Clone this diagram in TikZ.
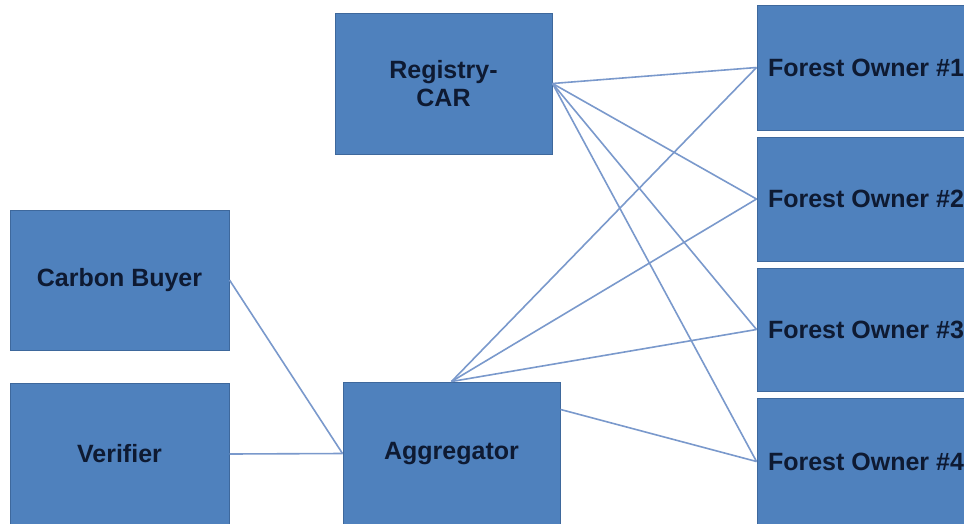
\documentclass[tikz,border=0pt]{standalone}
\usepackage{fontspec}
\setmainfont{Liberation Sans}
\definecolor{boxfill}{RGB}{79,129,189}
\definecolor{boxedge}{RGB}{62,104,156}
\definecolor{boxtext}{RGB}{14,26,50}
\definecolor{linkcol}{RGB}{122,153,204}
\begin{document}
\begin{tikzpicture}[x=1pt,y=-1pt,
  entity/.style={draw=boxedge,line width=1pt,fill=boxfill,rectangle,inner sep=0pt,
    text=boxtext,font=\fontsize{25}{28}\selectfont\bfseries,align=center},
  link/.style={draw=linkcol,line width=1.6pt}]
\useasboundingbox (0,0) rectangle (964,523);
\clip (0,0) rectangle (964,523);
\fill[white] (0,0) rectangle (964,523);
% nodes
\node[entity,minimum width=217pt,minimum height=141pt] (reg) at (443.5,83.5) {Registry-\\CAR};
\node[entity,minimum width=218pt,minimum height=125pt] (fo1) at (866,67.5) {Forest Owner \#1};
\node[entity,minimum width=218pt,minimum height=124pt] (fo2) at (866,199) {Forest Owner \#2};
\node[entity,minimum width=218pt,minimum height=123pt] (fo3) at (866,329.5) {Forest Owner \#3};
\node[entity,minimum width=218pt,minimum height=127pt] (fo4) at (866,461.5) {Forest Owner \#4};
\node[entity,minimum width=219pt,minimum height=140pt] (buyer) at (119.5,280) {Carbon Buyer};
\node[entity,minimum width=219pt,minimum height=142pt] (ver) at (119.5,454) {Verifier};
\node[entity,minimum width=217pt,minimum height=143pt] (agg) at (451.5,453.5) {Aggregator};
% connectors
\draw[link] (reg.east) -- (fo1.west);
\draw[link] (reg.east) -- (fo2.west);
\draw[link] (reg.east) -- (fo3.west);
\draw[link] (reg.east) -- (fo4.west);
\draw[link] (agg.north) -- (fo1.west);
\draw[link] (agg.north) -- (fo2.west);
\draw[link] (agg.north) -- (fo3.west);
\draw[link] (agg.22) -- (fo4.west);
\draw[link] (buyer.east) -- (agg.west);
\draw[link] (ver.east) -- (agg.west);
\end{tikzpicture}
\end{document}
